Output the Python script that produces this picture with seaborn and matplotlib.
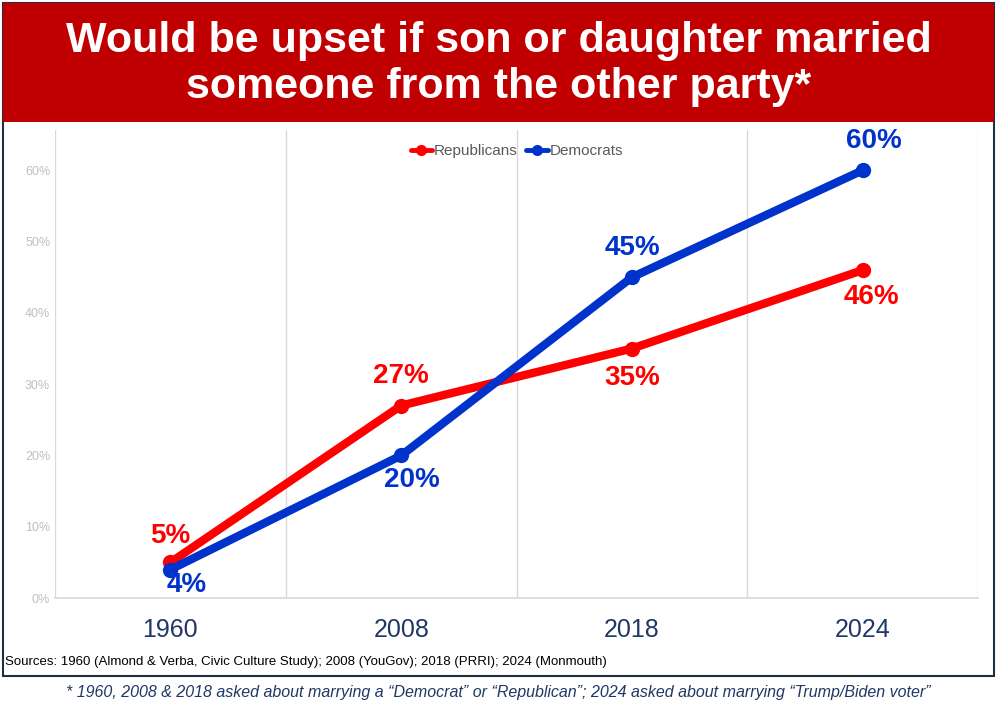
import matplotlib
matplotlib.use("Agg")
import matplotlib.pyplot as plt
import seaborn as sns
import pandas as pd
from matplotlib.patches import Rectangle

years = ["1960", "2008", "2018", "2024"]
republicans = [5, 27, 35, 46]
democrats = [4, 20, 45, 60]
yticks = [0, 10, 20, 30, 40, 50, 60]

RED = "#FF0000"
BLUE = "#0033CC"

sns.set_theme(style="white")
plt.rcParams['font.family'] = ['Liberation Sans', 'DejaVu Sans']

df = pd.DataFrame({
    "year": years * 2,
    "value": republicans + democrats,
    "party": ["Republicans"] * 4 + ["Democrats"] * 4,
})

fig = plt.figure(figsize=(9.97, 7.12), dpi=100)
ax = fig.add_axes([0.0552, 0.160, 0.926, 0.657])

sns.lineplot(data=df, x="year", y="value", hue="party", palette={"Republicans": RED, "Democrats": BLUE},
             marker="o", markersize=11, markeredgewidth=0, linewidth=6, ax=ax, sort=False)

ax.set_xlim(-0.5, 3.5)
ax.set_ylim(0, 65.6)
ax.set_yticks(yticks)
ax.set_yticklabels([f"{v}%" for v in yticks], fontsize=9, color="#BFBFBF")
ax.set_xticks(range(4))
ax.set_xticklabels(years, fontsize=18, color="#1F3864")
ax.tick_params(axis="x", pad=14)
ax.set_xticks([-0.5, 0.5, 1.5, 2.5, 3.5], minor=True)
ax.grid(False)
ax.grid(True, axis="x", which="minor", color="#D9D9D9", linewidth=1)
ax.tick_params(axis="both", which="both", length=0)
ax.set_xlabel("")
ax.set_ylabel("")
for s in ["top", "right", "left"]:
    ax.spines[s].set_visible(False)
ax.spines["bottom"].set_color("#D9D9D9")

leg = ax.legend(loc="upper center", bbox_to_anchor=(0.5, 1.0), ncol=2, frameon=False,
                fontsize=11, handlelength=1.4, columnspacing=0.6, handletextpad=0.1)
for h in leg.legend_handles:
    h.set_linewidth(3.5)
    h.set_markersize(8)
for t in leg.get_texts():
    t.set_color("#595959")

rep_off = [(0, 10), (0, 12), (0, -12), (6, -10)]
dem_off = [(12, -2), (8, -8), (0, 12), (8, 12)]
for i, (v, o) in enumerate(zip(republicans, rep_off)):
    ax.annotate(f"{v}%", (i, v), xytext=o, textcoords="offset points", ha="center",
                va="bottom" if o[1] > 0 else "top", fontsize=20, fontweight="bold", color=RED)
for i, (v, o) in enumerate(zip(democrats, dem_off)):
    ax.annotate(f"{v}%", (i, v), xytext=o, textcoords="offset points", ha="center",
                va="bottom" if o[1] > 0 else "top", fontsize=20, fontweight="bold", color=BLUE,
                annotation_clip=False)

fig.patches.append(Rectangle((3/997, 1-676/712), 991/997, 673/712, transform=fig.transFigure,
                             fill=False, edgecolor="#1F3040", linewidth=1.5))
fig.patches.append(Rectangle((3/997, 1-122/712), 991/997, 119/712, transform=fig.transFigure,
                             facecolor="#C00000", edgecolor="none"))
fig.text(0.5, 1-64/712, "Would be upset if son or daughter married\nsomeone from the other party*",
         ha="center", va="center", color="white", fontsize=31, fontweight="bold", linespacing=1.2)

fig.text(5/997, 1-662/712,
         "Sources: 1960 (Almond & Verba, Civic Culture Study); 2008 (YouGov); 2018 (PRRI); 2024 (Monmouth)",
         ha="left", va="center", fontsize=9.5, color="black")
fig.text(0.5, 1-693/712,
         "* 1960, 2008 & 2018 asked about marrying a \u201cDemocrat\u201d or \u201cRepublican\u201d; 2024 asked about marrying \u201cTrump/Biden voter\u201d",
         ha="center", va="center", fontsize=11.5, style="italic", color="#1F3864")

fig.savefig("out.png", dpi=100)
